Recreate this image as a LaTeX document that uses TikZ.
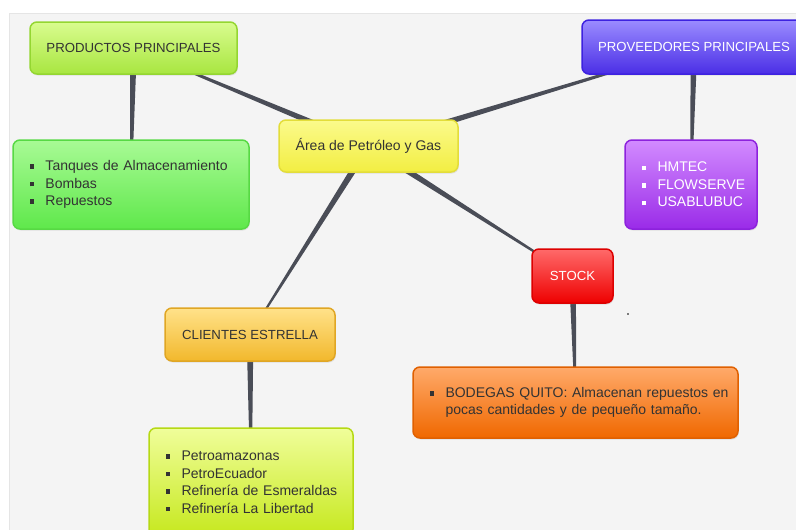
\documentclass[tikz,border=0pt]{standalone}
\usepackage{fontspec}
\setmainfont{Liberation Sans}
\usepackage{tikz}
\usetikzlibrary{calc}
\usetikzlibrary{shadows}
\usepackage{xcolor}
\pgfdeclarelayer{fondo}
\pgfsetlayers{fondo,main}
\newcommand\vineta{\makebox[16pt][l]{\rule[1.8pt]{4.5pt}{4.5pt}}}
\newcommand\elemento[1]{\mbox{\vineta#1}}
\newcommand\enlace[2]{\fill[conector] ($(#1)!3.4pt!90:(#2)$) -- ($(#2)!0.7pt!-90:(#1)$) -- ($(#2)!0.7pt!90:(#1)$) -- ($(#1)!3.4pt!-90:(#2)$) -- cycle;}
\tikzset{
  caja/.style={draw,line width=1.5pt,rounded corners=7pt,inner sep=0pt,
    drop shadow={opacity=0.18,shadow xshift=0.8pt,shadow yshift=-1.5pt},
    font=\fontsize{14}{17.5}\selectfont,text=textoosc},
  titulo/.style={caja,font=\fontsize{13.2}{16}\selectfont},
  lista/.style={caja,align=left,inner xsep=16.5pt,text width=#1},
  colores/.style={top color=#1a,bottom color=#1b,draw=#1c},
  conector/.style={fill=gris}
}
\begin{document}
\begin{tikzpicture}[line cap=round,line join=round,x=1pt,y=-1pt]
\definecolor{textoosc}{HTML}{333333}
\definecolor{gris}{HTML}{4A4D57}
\definecolor{fondogris}{HTML}{F4F4F4}
\definecolor{lima a}{HTML}{D9FC8F}\definecolor{lima b}{HTML}{A8E640}\definecolor{lima c}{HTML}{94D631}
\definecolor{verde a}{HTML}{A8FA95}\definecolor{verde b}{HTML}{5FE84B}\definecolor{verde c}{HTML}{57D944}
\definecolor{amarillo a}{HTML}{FBFA8C}\definecolor{amarillo b}{HTML}{F2EE42}\definecolor{amarillo c}{HTML}{E3DD3A}
\definecolor{azul a}{HTML}{9B8CFF}\definecolor{azul b}{HTML}{4A2EE6}\definecolor{azul c}{HTML}{3D22E0}
\definecolor{morado a}{HTML}{D28BFF}\definecolor{morado b}{HTML}{9A2BE8}\definecolor{morado c}{HTML}{8D22DD}
\definecolor{rojo a}{HTML}{FF6A6A}\definecolor{rojo b}{HTML}{EE0000}\definecolor{rojo c}{HTML}{DD0000}
\definecolor{naranja a}{HTML}{FFAA6A}\definecolor{naranja b}{HTML}{F06800}\definecolor{naranja c}{HTML}{E06000}
\definecolor{oro a}{HTML}{FFE28A}\definecolor{oro b}{HTML}{F2B82C}\definecolor{oro c}{HTML}{E0A624}
\definecolor{pistacho a}{HTML}{F0FE9A}\definecolor{pistacho b}{HTML}{C6E81E}\definecolor{pistacho c}{HTML}{B6D914}
\useasboundingbox (0,0) rectangle (796,530);
\clip (0,0) rectangle (796,530);
% cajas
\node[titulo,colores=lima\space,minimum width=207pt,minimum height=52pt] (productos) at (133.5,48) {PRODUCTOS PRINCIPALES};
\node[lista=203pt,colores=verde\space,minimum height=89pt] (tanques) at (131,184.5) {\elemento{Tanques de Almacenamiento}\\ \elemento{Bombas}\\ \elemento{Repuestos}};
\node[caja,colores=amarillo\space,minimum width=179pt,minimum height=52pt] (area) at (368.5,146) {Área de Petróleo y Gas};
\node[titulo,colores=azul\space,text=white,minimum width=224pt,minimum height=54pt] (proveedores) at (694,47) {PROVEEDORES PRINCIPALES};
\node[lista=99pt,colores=morado\space,text=white,minimum height=89pt] (hmtec) at (691,184.5) {\elemento{HMTEC}\\ \elemento{FLOWSERVE}\\ \elemento{USABLUBUC}};
\node[titulo,colores=rojo\space,text=white,minimum width=81pt,minimum height=54pt] (stock) at (572.5,276) {STOCK};
\node[lista=292pt,colores=naranja\space,minimum height=71pt] (bodegas) at (575.5,402.5) {\elemento{BODEGAS QUITO: Almacenan repuestos en}\\ \mbox{\hspace*{16pt}pocas cantidades y de pequeño tamaño.}};
\node[titulo,colores=oro\space,minimum width=170pt,minimum height=53pt] (clientes) at (250,334.5) {CLIENTES ESTRELLA};
\node[lista=171pt,colores=pistacho\space,minimum height=108pt] (petro) at (251,482) {\elemento{Petroamazonas}\\ \elemento{PetroEcuador}\\ \elemento{Refinería de Esmeraldas}\\ \elemento{Refinería La Libertad}};
\fill[black] (628,314) circle (0.8);
% fondo y conectores
\begin{pgfonlayer}{fondo}
\fill[white] (0,0) rectangle (796,530);
\fill[fondogris,draw=black!10] (9,13) rectangle (797,531);
\enlace{area}{productos}
\enlace{area}{proveedores}
\enlace{area}{clientes}
\enlace{area}{stock}
\enlace{productos}{tanques}
\enlace{proveedores}{hmtec}
\enlace{stock}{bodegas}
\enlace{clientes}{petro}
\end{pgfonlayer}
\end{tikzpicture}
\end{document}
